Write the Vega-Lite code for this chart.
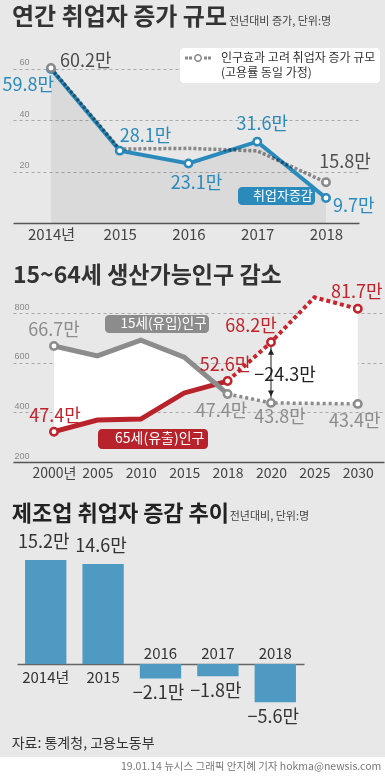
{
  "$schema": "https://vega.github.io/schema/vega-lite/v6.json",
  "width": 385,
  "height": 777,
  "autosize": {"type": "none"},
  "padding": 0,
  "background": "#e8e8e8",
  "config": {"view": {"stroke": null}, "text": {"font": "Noto Sans CJK KR"}},
  "datasets": {
    "jobs": [
      {"year": "2014", "series": "actual", "value": 59.8, "label": "59.8만"},
      {"year": "2015", "series": "actual", "value": 28.1, "label": "28.1만"},
      {"year": "2016", "series": "actual", "value": 23.1, "label": "23.1만"},
      {"year": "2017", "series": "actual", "value": 31.6, "label": "31.6만"},
      {"year": "2018", "series": "actual", "value": 9.7, "label": "9.7만"},
      {"year": "2014", "series": "adjusted", "value": 60.2, "label": "60.2만"},
      {"year": "2015", "series": "adjusted", "value": 28.7, "label": ""},
      {"year": "2016", "series": "adjusted", "value": 29.0, "label": ""},
      {"year": "2017", "series": "adjusted", "value": 28.0, "label": ""},
      {"year": "2018", "series": "adjusted", "value": 15.8, "label": "15.8만"}
    ],
    "pop": [
      {"year": "2000", "series": "inflow", "value": 667, "label": "66.7만"},
      {"year": "2005", "series": "inflow", "value": 627, "label": ""},
      {"year": "2010", "series": "inflow", "value": 691, "label": ""},
      {"year": "2015", "series": "inflow", "value": 622, "label": ""},
      {"year": "2018", "series": "inflow", "value": 474, "label": "47.4만"},
      {"year": "2020", "series": "inflow", "value": 438, "label": "43.8만"},
      {"year": "2025", "series": "inflow", "value": 436, "label": ""},
      {"year": "2030", "series": "inflow", "value": 434, "label": "43.4만"},
      {"year": "2000", "series": "outflow", "value": 322, "label": "47.4만"},
      {"year": "2005", "series": "outflow", "value": 369, "label": ""},
      {"year": "2010", "series": "outflow", "value": 373, "label": ""},
      {"year": "2015", "series": "outflow", "value": 478, "label": ""},
      {"year": "2018", "series": "outflow", "value": 526, "label": "52.6만"},
      {"year": "2020", "series": "outflow", "value": 682, "label": "68.2만"},
      {"year": "2025", "series": "outflow", "value": 863, "label": ""},
      {"year": "2030", "series": "outflow", "value": 817, "label": "81.7만"}
    ],
    "mfg": [
      {"year": "2014", "yearLabel": "2014년", "change": 15.2, "label": "15.2만"},
      {"year": "2015", "yearLabel": "2015", "change": 14.6, "label": "14.6만"},
      {"year": "2016", "yearLabel": "2016", "change": -2.1, "label": "−2.1만"},
      {"year": "2017", "yearLabel": "2017", "change": -1.8, "label": "−1.8만"},
      {"year": "2018", "yearLabel": "2018", "change": -5.6, "label": "−5.6만"}
    ]
  },
  "layer": [
    {
      "data": {"name": "jobs"},
      "resolve": {"scale": {"color": "independent"}},
      "layer": [
        {
          "transform": [{"filter": "datum.series=='actual'"}],
          "mark": {"type": "area", "color": "#000", "opacity": 0.06},
          "encoding": {
            "x": {"field": "year", "type": "ordinal", "title": null,
              "scale": {"type": "point", "domain": ["2014", "2015", "2016", "2017", "2018"], "range": [13, 359], "padding": 0.516, "align": 0.535},
              "axis": {"orient": "bottom", "offset": -554, "title": null, "labelAngle": 0, "domainColor": "#555", "domainWidth": 1.5, "ticks": false, "grid": false,
                "labelFont": "Liberation Sans Narrow, Noto Sans CJK KR, sans-serif", "labelFontSize": 15, "labelColor": "#444", "labelPadding": 4,
                "labelExpr": "datum.value=='2014' ? '2014년' : datum.value"}},
            "y": {"field": "value", "type": "quantitative", "title": null,
              "scale": {"domain": [0, 60], "range": [223, 68.5], "nice": false, "zero": false},
              "axis": {"orient": "left", "offset": -29, "title": null, "domain": false, "ticks": false, "grid": true, "gridDash": [3, 3], "gridColor": "#a8a8a8",
                "values": [20, 40, 60], "labelFont": "Liberation Sans Narrow, sans-serif", "labelFontSize": 9, "labelColor": "#888", "labelAlign": "right", "labelBaseline": "bottom", "labelPadding": 0, "labelOffset": -2}}
          }
        },
        {
          "transform": [{"filter": "datum.series=='actual'"}],
          "mark": {"type": "line", "strokeWidth": 4},
          "encoding": {
            "x": {"field": "year", "type": "ordinal", "title": null},
            "y": {"field": "value", "type": "quantitative", "title": null},
            "color": {"field": "series", "type": "nominal", "scale": {"range": ["#2a8abc"]},
              "legend": {"orient": "none", "legendX": 238, "legendY": 187, "title": null, "fillColor": "#2a8abc", "cornerRadius": 4, "padding": 2,
                "labelExpr": "'취업자증감'", "labelColor": "white", "labelFont": "Noto Sans CJK KR", "labelFontSize": 13, "labelOffset": 0,
                "symbolSize": 0, "symbolOpacity": 0, "symbolStrokeWidth": 0}}
          }
        },
        {
          "transform": [{"filter": "datum.series=='adjusted'"}],
          "mark": {"type": "line", "strokeWidth": 3.5, "strokeDash": [3, 2], "blend": "multiply"},
          "encoding": {
            "x": {"field": "year", "type": "ordinal", "title": null},
            "y": {"field": "value", "type": "quantitative", "title": null},
            "color": {"field": "series", "type": "nominal", "scale": {"domain": ["adjusted", "note"], "range": ["#959595", "#959595"]},
              "legend": {"orient": "none", "legendX": 180, "legendY": 48, "title": null, "fillColor": "white", "cornerRadius": 4, "padding": 4, "rowPadding": 3,
                "labelExpr": "datum.value == 'adjusted' ? '인구효과 고려 취업자 증가 규모' : '(고용률 동일 가정)'", "labelColor": "#333", "labelFont": "Noto Sans CJK KR", "labelFontSize": 12, "labelLimit": 400, "labelOffset": 25,
                "symbolType": "M-1,-0.3H-0.4V0.3H-1Z M-0.2,-0.3H0.4V0.3H-0.2Z M2.8,-0.3H3.4V0.3H2.8Z M3.6,-0.3H4.2V0.3H3.6Z M2.4,0A0.8,0.8 0 1 0 0.8,0A0.8,0.8 0 1 0 2.4,0Z M2.1,0A0.5,0.5 0 1 1 1.1,0A0.5,0.5 0 1 1 2.1,0Z",
                "symbolSize": 100, "symbolStrokeWidth": 0,
                "encode": {"symbols": {"update": {"fill": {"value": "#8a8a8a"}, "stroke": {"value": "transparent"}, "strokeDash": {"value": []},
                  "opacity": {"signal": "datum.value == 'adjusted' ? 1 : 0"}, "fillOpacity": {"signal": "datum.value == 'adjusted' ? 1 : 0"}}}}}}
          }
        },
        {
          "transform": [{"filter": "datum.series=='actual'"}],
          "mark": {"type": "point", "filled": true, "fill": "white", "stroke": "#2a8abc", "strokeWidth": 2.5, "size": 55, "opacity": 1},
          "encoding": {"x": {"field": "year", "type": "ordinal", "title": null}, "y": {"field": "value", "type": "quantitative", "title": null}}
        },
        {
          "transform": [{"filter": "datum.series=='adjusted' && (datum.year=='2014' || datum.year=='2018')"}],
          "mark": {"type": "point", "filled": true, "fill": "white", "stroke": "#8a8a8a", "strokeWidth": 2.5, "size": 55, "opacity": 1},
          "encoding": {"x": {"field": "year", "type": "ordinal", "title": null}, "y": {"field": "value", "type": "quantitative", "title": null}}
        },
        {
          "transform": [{"filter": "datum.series=='actual' && datum.year=='2014'"}],
          "mark": {"type": "text", "font": "Liberation Sans Narrow, Noto Sans CJK KR, sans-serif", "fontSize": 18, "color": "#2a8abc", "align": "right", "baseline": "middle", "dx": 3, "dy": 17},
          "encoding": {"x": {"field": "year", "type": "ordinal", "title": null}, "y": {"field": "value", "type": "quantitative", "title": null}, "text": {"field": "label"}}
        },
        {
          "transform": [{"filter": "datum.series=='adjusted' && datum.year=='2014'"}],
          "mark": {"type": "text", "font": "Liberation Sans Narrow, Noto Sans CJK KR, sans-serif", "fontSize": 18, "color": "#4d4d4d", "align": "left", "baseline": "middle", "dx": 9, "dy": -6},
          "encoding": {"x": {"field": "year", "type": "ordinal", "title": null}, "y": {"field": "value", "type": "quantitative", "title": null}, "text": {"field": "label"}}
        },
        {
          "transform": [{"filter": "datum.series=='actual' && datum.year=='2015'"}],
          "mark": {"type": "text", "font": "Liberation Sans Narrow, Noto Sans CJK KR, sans-serif", "fontSize": 18, "color": "#2a8abc", "align": "left", "baseline": "middle", "dx": 0, "dy": -14},
          "encoding": {"x": {"field": "year", "type": "ordinal", "title": null}, "y": {"field": "value", "type": "quantitative", "title": null}, "text": {"field": "label"}}
        },
        {
          "transform": [{"filter": "datum.series=='actual' && datum.year=='2016'"}],
          "mark": {"type": "text", "font": "Liberation Sans Narrow, Noto Sans CJK KR, sans-serif", "fontSize": 18, "color": "#2a8abc", "align": "center", "baseline": "middle", "dx": 8, "dy": 20},
          "encoding": {"x": {"field": "year", "type": "ordinal", "title": null}, "y": {"field": "value", "type": "quantitative", "title": null}, "text": {"field": "label"}}
        },
        {
          "transform": [{"filter": "datum.series=='actual' && datum.year=='2017'"}],
          "mark": {"type": "text", "font": "Liberation Sans Narrow, Noto Sans CJK KR, sans-serif", "fontSize": 18, "color": "#2a8abc", "align": "center", "baseline": "middle", "dx": 5, "dy": -17},
          "encoding": {"x": {"field": "year", "type": "ordinal", "title": null}, "y": {"field": "value", "type": "quantitative", "title": null}, "text": {"field": "label"}}
        },
        {
          "transform": [{"filter": "datum.series=='adjusted' && datum.year=='2018'"}],
          "mark": {"type": "text", "font": "Liberation Sans Narrow, Noto Sans CJK KR, sans-serif", "fontSize": 18, "color": "#4d4d4d", "align": "center", "baseline": "middle", "dx": 19, "dy": -19},
          "encoding": {"x": {"field": "year", "type": "ordinal", "title": null}, "y": {"field": "value", "type": "quantitative", "title": null}, "text": {"field": "label"}}
        },
        {
          "transform": [{"filter": "datum.series=='actual' && datum.year=='2018'"}],
          "mark": {"type": "text", "font": "Liberation Sans Narrow, Noto Sans CJK KR, sans-serif", "fontSize": 18, "color": "#2a8abc", "align": "left", "baseline": "middle", "dx": 7, "dy": 9},
          "encoding": {"x": {"field": "year", "type": "ordinal", "title": null}, "y": {"field": "value", "type": "quantitative", "title": null}, "text": {"field": "label"}}
        },
        {
          "data": {"values": [{"t": "연간 취업자 증가 규모"}]},
          "mark": {"type": "text", "font": "Noto Sans CJK KR", "fontSize": 24, "fontWeight": "bold", "color": "#333", "align": "left", "baseline": "middle", "dx": -39},
          "encoding": {"x": {"datum": "2014", "type": "ordinal", "title": null}, "y": {"datum": 79.6, "type": "quantitative", "title": null}, "text": {"field": "t"}}
        },
        {
          "data": {"values": [{"t": "전년대비 증가, 단위:명"}]},
          "mark": {"type": "text", "font": "Noto Sans CJK KR", "fontSize": 11, "color": "#444", "align": "left", "baseline": "middle", "dx": 178, "dy": 4},
          "encoding": {"x": {"datum": "2014", "type": "ordinal", "title": null}, "y": {"datum": 79.6, "type": "quantitative", "title": null}, "text": {"field": "t"}}
        }
      ]
    },
    {
      "data": {"name": "pop"},
      "resolve": {"scale": {"color": "independent"}},
      "layer": [
        {
          "transform": [{"pivot": "series", "value": "value", "groupby": ["year"]}],
          "mark": {"type": "area", "color": "white", "opacity": 1},
          "encoding": {
            "x": {"field": "year", "type": "ordinal", "title": null,
              "scale": {"type": "point", "domain": ["2000", "2005", "2010", "2015", "2018", "2020", "2025", "2030"], "range": [13, 384], "padding": 0.774, "align": 0.61},
              "axis": {"orient": "bottom", "offset": -315, "title": null, "labelAngle": 0, "domainColor": "#555", "domainWidth": 1.5, "ticks": false, "grid": false,
                "labelFont": "Liberation Sans Narrow, Noto Sans CJK KR, sans-serif", "labelFontSize": 14, "labelColor": "#444", "labelPadding": 4,
                "labelExpr": "datum.value=='2000' ? '2000년' : datum.value"}},
            "y": {"field": "inflow", "type": "quantitative", "title": null,
              "scale": {"domain": [200, 800], "range": [462, 313], "nice": false, "zero": false},
              "axis": {"orient": "left", "offset": -29, "title": null, "domain": false, "ticks": false, "grid": true, "gridDash": [3, 3], "gridColor": "#a8a8a8",
                "values": [200, 400, 600, 800], "labelFont": "Liberation Sans Narrow, sans-serif", "labelFontSize": 9, "labelColor": "#888", "labelAlign": "right", "labelBaseline": "bottom", "labelPadding": 0, "labelOffset": -2}},
            "y2": {"field": "outflow"}
          }
        },
        {
          "transform": [{"pivot": "series", "value": "value", "groupby": ["year"]}, {"filter": "datum.year=='2020'"}],
          "mark": {"type": "rule", "color": "#222", "strokeWidth": 1},
          "encoding": {"x": {"field": "year", "type": "ordinal", "title": null}, "y": {"field": "outflow", "type": "quantitative", "title": null}, "y2": {"field": "inflow"}}
        },
        {
          "layer": [
            {
              "transform": [{"filter": "datum.series=='outflow' && toNumber(datum.year) <= 2018"}],
              "mark": {"type": "line", "strokeWidth": 5},
              "encoding": {
                "x": {"field": "year", "type": "ordinal", "title": null},
                "y": {"field": "value", "type": "quantitative", "title": null},
                "color": {"field": "series", "type": "nominal", "scale": {"range": ["#b8222a"]},
                  "legend": {"orient": "none", "legendX": 98, "legendY": 429, "title": null, "fillColor": "#b8222a", "cornerRadius": 4, "padding": 3,
                    "labelExpr": "'65세(유출)인구'", "labelColor": "white", "labelFont": "Noto Sans CJK KR", "labelFontSize": 14, "labelOffset": 0,
                    "symbolSize": 0, "symbolOpacity": 0, "symbolStrokeWidth": 0}}
              }
            },
            {
              "transform": [{"filter": "datum.series=='outflow' && toNumber(datum.year) >= 2018"}],
              "mark": {"type": "line", "strokeWidth": 4, "strokeDash": [4, 3], "color": "#c8262e"},
              "encoding": {"x": {"field": "year", "type": "ordinal", "title": null}, "y": {"field": "value", "type": "quantitative", "title": null}}
            }
          ]
        },
        {
          "layer": [
            {
              "transform": [{"filter": "datum.series=='inflow' && toNumber(datum.year) <= 2018"}],
              "mark": {"type": "line", "strokeWidth": 5},
              "encoding": {
                "x": {"field": "year", "type": "ordinal", "title": null},
                "y": {"field": "value", "type": "quantitative", "title": null},
                "color": {"field": "series", "type": "nominal", "scale": {"range": ["#8c8c8c"]},
                  "legend": {"orient": "none", "legendX": 105, "legendY": 315, "title": null, "fillColor": "#8c8c8c", "cornerRadius": 4, "padding": 2,
                    "labelExpr": "'15세(유입)인구'", "labelColor": "white", "labelFont": "Noto Sans CJK KR", "labelFontSize": 13.5, "labelOffset": 0,
                    "symbolSize": 0, "symbolOpacity": 0, "symbolStrokeWidth": 0}}
              }
            },
            {
              "transform": [{"filter": "datum.series=='inflow' && toNumber(datum.year) >= 2018"}],
              "mark": {"type": "line", "strokeWidth": 3.5, "strokeDash": [3, 3], "color": "#8c8c8c"},
              "encoding": {"x": {"field": "year", "type": "ordinal", "title": null}, "y": {"field": "value", "type": "quantitative", "title": null}}
            }
          ]
        },
        {
          "transform": [{"filter": "datum.series=='outflow' && (datum.year=='2000' || datum.year=='2018' || datum.year=='2020' || datum.year=='2030')"}],
          "mark": {"type": "point", "filled": true, "fill": "white", "stroke": "#c0232b", "strokeWidth": 2.5, "size": 55, "opacity": 1},
          "encoding": {"x": {"field": "year", "type": "ordinal", "title": null}, "y": {"field": "value", "type": "quantitative", "title": null}}
        },
        {
          "transform": [{"filter": "datum.series=='inflow' && (datum.year=='2000' || datum.year=='2018' || datum.year=='2020' || datum.year=='2030')"}],
          "mark": {"type": "point", "filled": true, "fill": "white", "stroke": "#8c8c8c", "strokeWidth": 2.5, "size": 55, "opacity": 1},
          "encoding": {"x": {"field": "year", "type": "ordinal", "title": null}, "y": {"field": "value", "type": "quantitative", "title": null}}
        },
        {
          "transform": [{"filter": "datum.series=='outflow' && datum.year=='2020'"}],
          "mark": {"type": "point", "shape": "M0,1.3L0.6,2.5L-0.6,2.5Z", "size": 100, "filled": true, "color": "#222", "opacity": 1, "strokeWidth": 0},
          "encoding": {"x": {"field": "year", "type": "ordinal", "title": null}, "y": {"field": "value", "type": "quantitative", "title": null}}
        },
        {
          "transform": [{"filter": "datum.series=='inflow' && datum.year=='2020'"}],
          "mark": {"type": "point", "shape": "M0,-1.3L0.6,-2.5L-0.6,-2.5Z", "size": 100, "filled": true, "color": "#222", "opacity": 1, "strokeWidth": 0},
          "encoding": {"x": {"field": "year", "type": "ordinal", "title": null}, "y": {"field": "value", "type": "quantitative", "title": null}}
        },
        {
          "transform": [{"filter": "datum.series=='inflow' && datum.year=='2000'"}],
          "mark": {"type": "text", "font": "Liberation Sans Narrow, Noto Sans CJK KR, sans-serif", "fontSize": 18, "color": "#8c8c8c", "align": "center", "baseline": "middle", "dx": 0, "dy": -15},
          "encoding": {"x": {"field": "year", "type": "ordinal", "title": null}, "y": {"field": "value", "type": "quantitative", "title": null}, "text": {"field": "label"}}
        },
        {
          "transform": [{"filter": "datum.series=='outflow' && datum.year=='2000'"}],
          "mark": {"type": "text", "font": "Liberation Sans Narrow, Noto Sans CJK KR, sans-serif", "fontSize": 18, "color": "#c0232b", "align": "center", "baseline": "middle", "dx": 1, "dy": -15},
          "encoding": {"x": {"field": "year", "type": "ordinal", "title": null}, "y": {"field": "value", "type": "quantitative", "title": null}, "text": {"field": "label"}}
        },
        {
          "transform": [{"filter": "datum.series=='outflow' && datum.year=='2018'"}],
          "mark": {"type": "text", "font": "Liberation Sans Narrow, Noto Sans CJK KR, sans-serif", "fontSize": 18, "color": "#c0232b", "align": "center", "baseline": "middle", "dx": -2, "dy": -15},
          "encoding": {"x": {"field": "year", "type": "ordinal", "title": null}, "y": {"field": "value", "type": "quantitative", "title": null}, "text": {"field": "label"}}
        },
        {
          "transform": [{"filter": "datum.series=='outflow' && datum.year=='2020'"}],
          "mark": {"type": "text", "font": "Liberation Sans Narrow, Noto Sans CJK KR, sans-serif", "fontSize": 18, "color": "#c0232b", "align": "center", "baseline": "middle", "dx": -20, "dy": -15},
          "encoding": {"x": {"field": "year", "type": "ordinal", "title": null}, "y": {"field": "value", "type": "quantitative", "title": null}, "text": {"field": "label"}}
        },
        {
          "transform": [{"filter": "datum.series=='outflow' && datum.year=='2030'"}],
          "mark": {"type": "text", "font": "Liberation Sans Narrow, Noto Sans CJK KR, sans-serif", "fontSize": 18, "color": "#c0232b", "align": "center", "baseline": "middle", "dx": -1, "dy": -16},
          "encoding": {"x": {"field": "year", "type": "ordinal", "title": null}, "y": {"field": "value", "type": "quantitative", "title": null}, "text": {"field": "label"}}
        },
        {
          "transform": [{"filter": "datum.series=='inflow' && datum.year=='2018'"}],
          "mark": {"type": "text", "font": "Liberation Sans Narrow, Noto Sans CJK KR, sans-serif", "fontSize": 18, "color": "#8c8c8c", "align": "center", "baseline": "middle", "dx": -6, "dy": 18},
          "encoding": {"x": {"field": "year", "type": "ordinal", "title": null}, "y": {"field": "value", "type": "quantitative", "title": null}, "text": {"field": "label"}}
        },
        {
          "transform": [{"filter": "datum.series=='inflow' && datum.year=='2020'"}],
          "mark": {"type": "text", "font": "Liberation Sans Narrow, Noto Sans CJK KR, sans-serif", "fontSize": 18, "color": "#8c8c8c", "align": "center", "baseline": "middle", "dx": 9, "dy": 15},
          "encoding": {"x": {"field": "year", "type": "ordinal", "title": null}, "y": {"field": "value", "type": "quantitative", "title": null}, "text": {"field": "label"}}
        },
        {
          "transform": [{"filter": "datum.series=='inflow' && datum.year=='2030'"}],
          "mark": {"type": "text", "font": "Liberation Sans Narrow, Noto Sans CJK KR, sans-serif", "fontSize": 18, "color": "#8c8c8c", "align": "center", "baseline": "middle", "dx": -3, "dy": 18},
          "encoding": {"x": {"field": "year", "type": "ordinal", "title": null}, "y": {"field": "value", "type": "quantitative", "title": null}, "text": {"field": "label"}}
        },
        {
          "data": {"values": [{"year": "2020", "ref": 682, "t": "−24.3만"}]},
          "mark": {"type": "text", "font": "Liberation Sans Narrow, Noto Sans CJK KR, sans-serif", "fontSize": 18, "color": "#222", "align": "center", "baseline": "middle", "dx": 14, "dy": 34},
          "encoding": {"x": {"field": "year", "type": "ordinal", "title": null}, "y": {"field": "ref", "type": "quantitative", "title": null}, "text": {"field": "t"}}
        },
        {
          "data": {"values": [{"t": "15~64세 생산가능인구 감소"}]},
          "mark": {"type": "text", "font": "Noto Sans CJK KR", "fontSize": 23, "fontWeight": "bold", "color": "#333", "align": "left", "baseline": "middle", "dx": -41},
          "encoding": {"x": {"datum": "2000", "type": "ordinal", "title": null}, "y": {"datum": 949, "type": "quantitative", "title": null}, "text": {"field": "t"}}
        }
      ]
    },
    {
      "data": {"name": "mfg"},
      "layer": [
        {
          "mark": {"type": "bar", "color": "#4e9ac3"},
          "encoding": {
            "x": {"field": "year", "type": "ordinal", "title": null,
              "scale": {"type": "band", "domain": ["2014", "2015", "2016", "2017", "2018"], "range": [17, 304], "paddingInner": 0.28, "paddingOuter": 0.14},
              "axis": {"orient": "bottom", "offset": -113, "title": null, "labels": false, "ticks": false, "grid": false, "domainColor": "#666", "domainWidth": 1.5}},
            "y": {"field": "change", "type": "quantitative", "title": null,
              "scale": {"domain": [0, 10], "range": [664, 595.5], "nice": false, "zero": false}, "axis": null}
          }
        },
        {
          "transform": [{"filter": "datum.change > 0"}],
          "mark": {"type": "text", "font": "Liberation Sans Narrow, Noto Sans CJK KR, sans-serif", "fontSize": 18, "color": "#333", "align": "center", "baseline": "middle", "dx": -2, "dy": -17},
          "encoding": {"x": {"field": "year", "type": "ordinal", "title": null}, "y": {"field": "change", "type": "quantitative", "title": null}, "text": {"field": "label"}}
        },
        {
          "transform": [{"filter": "datum.change < 0"}],
          "mark": {"type": "text", "font": "Liberation Sans Narrow, Noto Sans CJK KR, sans-serif", "fontSize": 18, "color": "#333", "align": "center", "baseline": "middle", "dx": -2, "dy": 16},
          "encoding": {"x": {"field": "year", "type": "ordinal", "title": null}, "y": {"field": "change", "type": "quantitative", "title": null}, "text": {"field": "label"}}
        },
        {
          "transform": [{"filter": "datum.change > 0"}],
          "mark": {"type": "text", "font": "Liberation Sans Narrow, Noto Sans CJK KR, sans-serif", "fontSize": 15, "color": "#333", "align": "center", "baseline": "middle", "dy": 14},
          "encoding": {"x": {"field": "year", "type": "ordinal", "title": null}, "y": {"datum": 0, "type": "quantitative", "title": null}, "text": {"field": "yearLabel"}}
        },
        {
          "transform": [{"filter": "datum.change < 0"}],
          "mark": {"type": "text", "font": "Liberation Sans Narrow, Noto Sans CJK KR, sans-serif", "fontSize": 15, "color": "#333", "align": "center", "baseline": "middle", "dy": -10},
          "encoding": {"x": {"field": "year", "type": "ordinal", "title": null}, "y": {"datum": 0, "type": "quantitative", "title": null}, "text": {"field": "yearLabel"}}
        },
        {
          "data": {"values": [{"t": "제조업 취업자 증감 추이"}]},
          "mark": {"type": "text", "font": "Noto Sans CJK KR", "fontSize": 22, "fontWeight": "bold", "color": "#222", "align": "left", "baseline": "middle", "dx": -34},
          "encoding": {"x": {"datum": "2014", "type": "ordinal", "title": null}, "y": {"datum": 21.9, "type": "quantitative", "title": null}, "text": {"field": "t"}}
        },
        {
          "data": {"values": [{"t": "전년대비, 단위:명"}]},
          "mark": {"type": "text", "font": "Noto Sans CJK KR", "fontSize": 11, "color": "#444", "align": "left", "baseline": "middle", "dx": 184, "dy": 3},
          "encoding": {"x": {"datum": "2014", "type": "ordinal", "title": null}, "y": {"datum": 21.9, "type": "quantitative", "title": null}, "text": {"field": "t"}}
        },
        {
          "data": {"values": [{"t": "자료: 통계청, 고용노동부"}]},
          "mark": {"type": "text", "font": "Noto Sans CJK KR", "fontSize": 14, "color": "#333", "align": "left", "baseline": "middle", "dx": -34},
          "encoding": {"x": {"datum": "2014", "type": "ordinal", "title": null}, "y": {"datum": -11.68, "type": "quantitative", "title": null}, "text": {"field": "t"}}
        },
        {
          "data": {"values": [{"band": "footer"}]},
          "mark": {"type": "rect", "color": "white", "opacity": 1},
          "encoding": {"y": {"datum": -13.58, "type": "quantitative", "title": null}, "y2": {"datum": -16.49}}
        },
        {
          "data": {"values": [{"t": "19.01.14 뉴시스 그래픽 안지혜 기자 hokma@newsis.com"}]},
          "mark": {"type": "text", "font": "Noto Sans CJK KR", "fontSize": 10.5, "color": "#777", "align": "right", "baseline": "middle", "dx": 106},
          "encoding": {"x": {"datum": "2018", "type": "ordinal", "title": null}, "y": {"datum": -15.04, "type": "quantitative", "title": null}, "text": {"field": "t"}}
        }
      ]
    }
  ],
  "resolve": {"scale": {"x": "independent", "y": "independent", "color": "independent"}}
}
